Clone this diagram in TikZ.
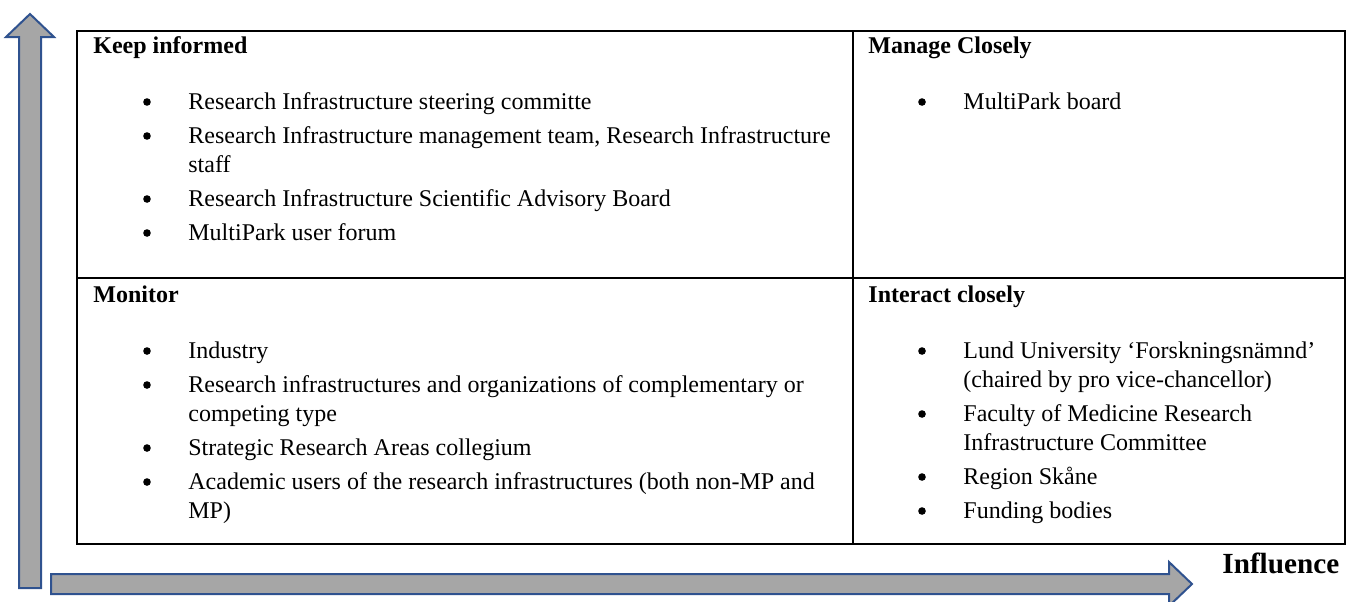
\documentclass[tikz,border=0pt]{standalone}
\usepackage{fontspec}
\setmainfont{Liberation Serif}

\definecolor{arrowblue}{RGB}{47,82,143}
\definecolor{arrowgray}{RGB}{166,166,166}

\tikzset{
	cellhead/.style={anchor=base west, inner sep=0pt, font=\bfseries\fontsize{12}{14.5}\selectfont},
	entry/.style={anchor=base west, inner sep=0pt, font=\fontsize{12}{14.5}\selectfont},
	dot/.style={circle, fill=black, inner sep=0pt, minimum size=3.8pt},
	grid/.style={line width=1.1pt, line cap=rect},
	bigarrow/.style={draw=arrowblue, fill=arrowgray, line width=1pt, line join=miter},
}

% bullet + text, #2 = x of the bullet, #3 = baseline
\newcommand{\listentry}[4]{%
	\node[dot] (#1dot) at (#2,#3-7) {};
	\node[entry] (#1) at (#2+41,#3) {#4};
}
% wrapped second line of an entry, hung under the text above
\newcommand{\wrapline}[3]{%
	\node[entry] (#1) at (#2.base west) [yshift=-14.5pt] {#3};
}

\begin{document}
\begin{tikzpicture}[x=0.5pt, y=-0.5pt]
				\useasboundingbox (0,0) rectangle (1358,601);
				\clip (0,0) rectangle (1358,601);
				
				% axes as block arrows
				\draw[bigarrow] (19,588) -- (19,37) -- (6,37) -- (30,14) -- (54,37) -- (41,37) -- (41,588) -- cycle;
				\draw[bigarrow] (51,574) -- (1169,574) -- (1169,562) -- (1192,584) -- (1169,606) -- (1169,594) -- (51,594) -- cycle;
				\node[cellhead, font=\bfseries\fontsize{14.6}{17}\selectfont] (influence) at (1222,573) {Influence};
				
				% the 2x2 grid
				\draw[grid] (77,31) rectangle (1345,544);
				\draw[grid] (77,278) -- (1345,278);
				\draw[grid] (853,31) -- (853,544);
				
				% top left
				\node[cellhead] (keep) at (93,53) {Keep informed};
				\listentry{ki1}{147}{109}{Research Infrastructure steering committe}
				\listentry{ki2}{147}{143}{Research Infrastructure management team, Research Infrastructure}
				\wrapline{ki2b}{ki2}{staff}
				\listentry{ki3}{147}{206}{Research Infrastructure Scientific Advisory Board}
				\listentry{ki4}{147}{240}{MultiPark user forum}
				
				% top right
				\node[cellhead] (manage) at (868,53) {Manage Closely};
				\listentry{mc1}{922}{109}{MultiPark board}
				
				% bottom left
				\node[cellhead] (monitor) at (93,302) {Monitor};
				\listentry{mo1}{147}{358}{Industry}
				\listentry{mo2}{147}{392}{Research infrastructures and organizations of complementary or}
				\wrapline{mo2b}{mo2}{competing type}
				\listentry{mo3}{147}{455}{Strategic Research Areas collegium}
				\listentry{mo4}{147}{489}{Academic users of the research infrastructures (both non-MP and}
				\wrapline{mo4b}{mo4}{MP)}
				
				% bottom right
				\node[cellhead] (interact) at (868,302) {Interact closely};
				\listentry{ic1}{922}{358}{Lund University ‘Forskningsnämnd’}
				\wrapline{ic1b}{ic1}{(chaired by pro vice-chancellor)}
				\listentry{ic2}{922}{421}{Faculty of Medicine Research}
				\wrapline{ic2b}{ic2}{Infrastructure Committee}
				\listentry{ic3}{922}{484}{Region Skåne}
				\listentry{ic4}{922}{518}{Funding bodies}
			\end{tikzpicture}
\end{document}
